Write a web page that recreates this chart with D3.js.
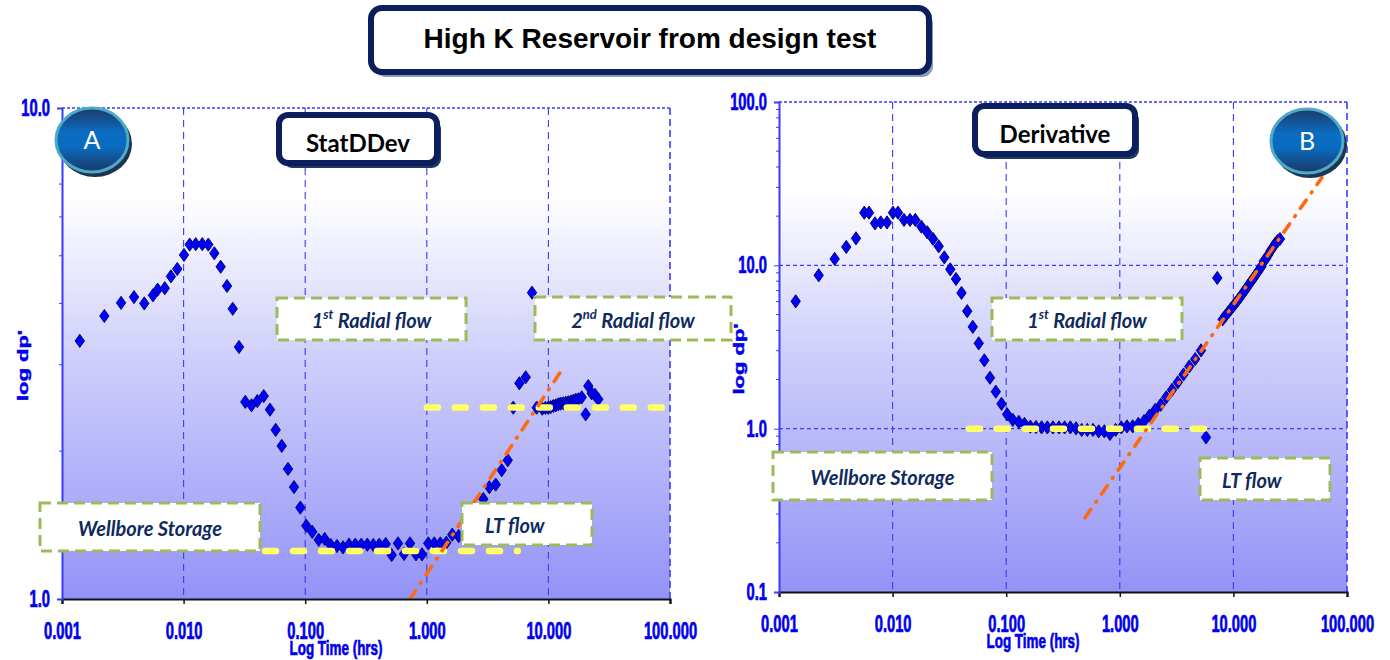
<!DOCTYPE html>
<html>
<head>
<meta charset="utf-8">
<script src="https://cdn.jsdelivr.net/npm/d3@7"></script>
<style>
  body { margin: 0; background: #ffffff; }
  svg { display: block; }
</style>
</head>
<body>
<svg id="chart" width="1390" height="660"></svg>
<script>
// ---------- data ----------
const timeTicks = [0.001, 0.01, 0.1, 1, 10, 100];
const timeTickLabels = ["0.001", "0.010", "0.100", "1.000", "10.000", "100.000"];
const gridTimes = [0.01, 0.1, 1, 10];

// Panel A: StatDDev (time in hrs, dp')
const statTime = [0.0014, 0.00223, 0.00306, 0.00391, 0.00475, 0.0056, 0.00612, 0.0070, 0.00787, 0.00887,
  0.01007, 0.01122, 0.01258, 0.01425, 0.01596, 0.01789, 0.02018, 0.02275, 0.02535, 0.02855,
  0.03216, 0.03614, 0.04037, 0.0456, 0.05133, 0.05718, 0.0641, 0.0722, 0.0809, 0.0912,
  0.1021, 0.1143, 0.1291, 0.1446, 0.162, 0.1826, 0.2046, 0.2291, 0.2582, 0.2892,
  0.3242, 0.3631, 0.4065, 0.4591, 0.5143, 0.5796, 0.6494, 0.7278, 0.8151, 0.9131,
  1.028, 1.152, 1.291, 1.446, 1.62, 1.829, 2.915, 3.266, 3.687, 4.13,
  4.63, 5.14, 5.77, 6.51, 7.33, 8.01, 8.91, 9.45, 9.98, 10.45,
  10.97, 11.5, 12.06, 12.6, 13.26, 13.9, 14.58, 15.3, 16.03, 16.8,
  17.62, 18.79, 20.26, 21.28, 22.7, 24.17, 25.73];
const statDp = [3.355, 3.77, 4.01, 4.12, 4.00, 4.155, 4.265, 4.295, 4.54, 4.70,
  5.02, 5.27, 5.28, 5.28, 5.27, 5.06, 4.75, 4.34, 3.90, 3.26,
  2.52, 2.48, 2.53, 2.59, 2.43, 2.21, 2.05, 1.84, 1.69, 1.535,
  1.41, 1.37, 1.32, 1.325, 1.288, 1.282, 1.274, 1.29, 1.29, 1.29,
  1.29, 1.288, 1.29, 1.294, 1.229, 1.298, 1.235, 1.298, 1.233, 1.233,
  1.298, 1.298, 1.298, 1.302, 1.352, 1.343, 1.598, 1.689, 1.71, 1.83,
  1.917, 2.453, 2.75, 2.829, 4.206, 2.453, 2.441, 2.45, 2.453, 2.46,
  2.472, 2.48, 2.492, 2.50, 2.504, 2.51, 2.516, 2.525, 2.535, 2.545,
  2.551, 2.575, 2.377, 2.715, 2.624, 2.604, 2.551];

// Panel B: Derivative (time in hrs, dp')
const derivTime = [0.001403, 0.002236, 0.00309, 0.00391, 0.00476, 0.00563, 0.0062, 0.0070, 0.00786, 0.00893,
  0.01008, 0.01116, 0.0126, 0.01423, 0.01584, 0.0179, 0.0202, 0.02268, 0.02546, 0.02852,
  0.0322, 0.03614, 0.0404, 0.0454, 0.0508, 0.0573, 0.0642, 0.072, 0.081, 0.0909,
  0.102, 0.1143, 0.1291, 0.1449, 0.163, 0.183, 0.205, 0.23, 0.258, 0.2916,
  0.327, 0.3667, 0.4115, 0.462, 0.5176, 0.5808, 0.652, 0.7306, 0.8197, 0.9196,
  1.031, 1.157, 1.299, 1.455, 1.633, 1.826, 2.049, 2.291, 2.562, 2.881,
  3.24, 3.637, 4.09, 4.61, 5.186, 5.74, 7.21,
  8.05, 8.5, 9.0, 9.5, 10.0, 10.5, 11.0, 11.6, 12.2, 12.8,
  13.4, 14.0, 14.7, 15.4, 16.1, 16.9, 17.7, 18.5, 19.4, 20.3,
  21.3, 22.3, 23.4, 24.5, 25.7];
const derivDp = [6.02, 8.69, 10.95, 12.96, 14.63, 21.0, 21.0, 18.08, 18.3, 18.3,
  21.0, 21.0, 18.97, 18.97, 18.97, 17.26, 15.93, 14.51, 13.07, 11.19,
  9.45, 8.25, 6.78, 5.24, 4.20, 3.33, 2.62, 2.05, 1.685, 1.42,
  1.224, 1.132, 1.10, 1.069, 1.029, 1.024, 1.018, 1.018, 1.018, 1.018,
  1.018, 1.018, 1.004, 0.982, 0.982, 0.982, 0.963, 0.963, 0.928, 0.982,
  1.018, 1.033, 1.033, 1.069, 1.111, 1.201, 1.302, 1.399, 1.554, 1.728,
  1.921, 2.146, 2.403, 2.668, 3.014, 0.8845, 8.37,
  4.67, 4.9, 5.15, 5.4, 5.65, 5.9, 6.15, 6.45, 6.8, 7.1,
  7.45, 7.8, 8.15, 8.55, 8.95, 9.4, 9.85, 10.6, 11.0, 11.6,
  12.3, 12.9, 13.6, 14.1, 14.5];

// Reference lines: flow-regime levels and late-time trend
const statRadial1Time = [0.0467, 5.6];
const statRadial1Dp = [1.252, 1.252];
const statRadial2Time = [1.0, 100];
const statRadial2Dp = [2.455, 2.455];
const statTrendTime = [0.728, 13.2];
const statTrendDp = [1.0, 2.954];
const derivRadialTime = [0.047, 5.62];
const derivRadialDp = [1.0, 1.0];
const derivTrendTime = [0.494, 60];
const derivTrendDp = [0.285, 34.4];

// ---------- styles ----------
const BLUE = "#0000ee";
const SANS = '"Liberation Sans", Arial, sans-serif';
const NOTE_FONT = 'Lato, "Open Sans", sans-serif';
const NAVY_TEXT = "#0f2a5e";
const SQUEEZE = 0.64;   // narrow, tall axis lettering

const svg = d3.select("#chart");
const defs = svg.append("defs");

const bgGrad = defs.append("linearGradient").attr("id", "plotBg")
  .attr("x1", 0).attr("y1", 0).attr("x2", 0).attr("y2", 1);
[[0, "#ffffff"], [0.18, "#ffffff"], [0.5, "#d0d0fb"], [1, "#9393f7"]].forEach(([o, c]) =>
  bgGrad.append("stop").attr("offset", o).attr("stop-color", c));

const badgeGrad = defs.append("linearGradient").attr("id", "badgeFill")
  .attr("x1", 0).attr("y1", 0).attr("x2", 0).attr("y2", 1);
[[0, "#1d3a6a"], [0.38, "#0b6cc0"], [0.6, "#0a6cc0"], [1, "#1c3868"]].forEach(([o, c]) =>
  badgeGrad.append("stop").attr("offset", o).attr("stop-color", c));

const diamond = "M0,-6.6L4.7,0L0,6.6L-4.7,0Z";

function axisLettering(sel, size) {
  sel.attr("fill", BLUE).attr("stroke", BLUE).attr("stroke-width", 0.7)
    .attr("font-family", SANS).attr("font-weight", "bold").attr("font-size", size);
}

function drawPanel(opt) {
  const { x, y, times, values, yTicks, hGrid, flats, trend, titleX, dpLabelX } = opt;
  const g = svg.append("g");
  const [x0, x1] = x.range();
  const [yb, yt] = y.range();

  g.append("rect").attr("x", x0).attr("y", yt).attr("width", x1 - x0).attr("height", yb - yt)
    .attr("fill", "url(#plotBg)");

  // vertical grid
  g.selectAll("line.vg").data(gridTimes).join("line").attr("class", "vg")
    .attr("x1", d => x(d)).attr("x2", d => x(d)).attr("y1", yt).attr("y2", yb)
    .attr("stroke", "#3a3aff").attr("stroke-width", 1.1).attr("stroke-dasharray", "7,5");
  // right border
  g.append("line").attr("x1", x1).attr("x2", x1).attr("y1", yt).attr("y2", yb)
    .attr("stroke", "#3a3aff").attr("stroke-width", 1.6).attr("stroke-dasharray", "7,4");
  // horizontal grid
  g.selectAll("line.hg").data(hGrid).join("line").attr("class", "hg")
    .attr("x1", x0).attr("x2", x1).attr("y1", d => y(d)).attr("y2", d => y(d))
    .attr("stroke", "#3a3aff").attr("stroke-width", 1.2).attr("stroke-dasharray", "4,3");
  // top border
  g.append("line").attr("x1", x0).attr("x2", x1).attr("y1", yt).attr("y2", yt)
    .attr("stroke", "#3a3aff").attr("stroke-width", 1.6).attr("stroke-dasharray", "3,2");

  const clipId = "clip" + Math.round(x0);
  defs.append("clipPath").attr("id", clipId).append("rect")
    .attr("x", x0).attr("y", yt).attr("width", x1 - x0).attr("height", yb - yt);

  // data points
  g.append("g").selectAll("path").data(times.map((t, i) => [t, values[i]])).join("path")
    .attr("d", diamond)
    .attr("transform", d => `translate(${x(d[0])},${y(d[1])})`)
    .attr("fill", "#0000ff").attr("stroke", "#000066").attr("stroke-width", 0.9);

  const line = d3.line().x(d => x(d[0])).y(d => y(d[1]));
  // flow-regime levels
  flats.forEach(f => {
    g.append("path").attr("d", line(f[0].map((t, i) => [t, f[1][i]])))
      .attr("fill", "none").attr("stroke", "#ffff66").attr("stroke-width", 6.5)
      .attr("stroke-linecap", "round").attr("stroke-dasharray", "11,17");
  });
  // late-time trend
  g.append("path").attr("d", line(trend[0].map((t, i) => [t, trend[1][i]])))
    .attr("clip-path", `url(#${clipId})`)
    .attr("fill", "none").attr("stroke", "#ff6a10").attr("stroke-width", 3.6)
    .attr("stroke-linecap", "round").attr("stroke-dasharray", "10,9,1,9");

  // axes
  const xAxis = d3.axisBottom(x).tickValues(timeTicks)
    .tickFormat((d, i) => timeTickLabels[i]).tickSize(5).tickPadding(19);
  const xa = g.append("g").attr("transform", `translate(0,${yb})`).call(xAxis);
  xa.select(".domain").attr("stroke", "#111").attr("stroke-width", 2.2);
  xa.selectAll(".tick line").attr("stroke", "#111").attr("stroke-width", 1.5);
  xa.selectAll("text").call(axisLettering, 23).attr("transform", `scale(${SQUEEZE},1)`);

  const yAxis = d3.axisLeft(y).tickValues(yTicks).tickFormat(d3.format(".1f")).tickSize(5).tickPadding(7);
  const ya = g.append("g").attr("transform", `translate(${x0},0)`).call(yAxis);
  ya.select(".domain").attr("stroke", "#3a3aff").attr("stroke-width", 2);
  ya.selectAll(".tick line").attr("stroke", "#3a3aff");
  ya.selectAll("text").call(axisLettering, 23)
    .attr("x", -12 / SQUEEZE).attr("transform", `scale(${SQUEEZE},1)`);

  // minor ticks on the value axis
  const [ylo, yhi] = y.domain();
  const minors = [];
  for (let dec = ylo; dec < yhi; dec *= 10) for (let k = 2; k <= 9; k++) minors.push(dec * k);
  g.selectAll("line.mt").data(minors).join("line").attr("class", "mt")
    .attr("x1", x0 - 3).attr("x2", x0).attr("y1", d => y(d)).attr("y2", d => y(d))
    .attr("stroke", "#3a3aff").attr("stroke-width", 1);

  // axis titles
  g.append("text").attr("text-anchor", "middle")
    .attr("transform", `translate(${titleX},${yb + 56}) scale(${SQUEEZE},1)`)
    .call(axisLettering, 21).text("Log Time (hrs)");
  g.append("text")
    .attr("transform", `translate(${dpLabelX},${(yt + yb) / 2 + 12}) scale(${SQUEEZE},1) rotate(-90)`)
    .attr("text-anchor", "middle").call(axisLettering, 22).text("log dp'");
  return g;
}

const xA = d3.scaleLog().domain([0.001, 100]).range([62, 670]);
const yA = d3.scaleLog().domain([1, 10]).range([599, 108]);
const xB = d3.scaleLog().domain([0.001, 100]).range([779, 1347]);
const yB = d3.scaleLog().domain([0.1, 100]).range([592, 102]);

drawPanel({ x: xA, y: yA, times: statTime, values: statDp, yTicks: [1, 10], hGrid: [],
  flats: [[statRadial1Time, statRadial1Dp], [statRadial2Time, statRadial2Dp]],
  trend: [statTrendTime, statTrendDp], titleX: 336, dpLabelX: 28 });
drawPanel({ x: xB, y: yB, times: derivTime, values: derivDp, yTicks: [0.1, 1, 10, 100], hGrid: [1, 10],
  flats: [[derivRadialTime, derivRadialDp]],
  trend: [derivTrendTime, derivTrendDp], titleX: 1033, dpLabelX: 744 });

// ---------- annotation boxes ----------
function note(x, y, w, h, main, sup, rest, tx) {
  const g = svg.append("g");
  g.append("rect").attr("x", x).attr("y", y).attr("width", w).attr("height", h)
    .attr("fill", "#ffffff").attr("stroke", "#9bbb59").attr("stroke-width", 3)
    .attr("stroke-dasharray", "11,6");
  const t = g.append("text").attr("x", tx !== undefined ? tx : x + w / 2).attr("y", y + h / 2 + 9)
    .attr("text-anchor", tx !== undefined ? "start" : "middle")
    .attr("fill", NAVY_TEXT).attr("font-family", NOTE_FONT).attr("font-weight", "bold")
    .attr("font-style", "italic").attr("font-size", 20);
  t.append("tspan").text(main);
  if (sup) {
    t.append("tspan").attr("font-size", 13).attr("dy", -9).text(sup);
    t.append("tspan").attr("dy", 9).text(rest);
  }
}
note(277, 298, 189, 42, "1", "st", " Radial flow");
note(535, 297, 196, 43, "2", "nd", " Radial flow");
note(40, 503, 220, 48, "Wellbore Storage");
note(462, 503, 130, 42, "LT flow", null, null, 485);
note(992, 298, 190, 42, "1", "st", " Radial flow");
note(773, 452, 219, 48, "Wellbore Storage");
note(1200, 458, 130, 42, "LT flow", null, null, 1222);

// ---------- title boxes ----------
function labelBox(x, y, w, h, txt, size, shadow, family, rx, base) {
  const g = svg.append("g");
  g.append("rect").attr("x", x + 4).attr("y", y + 5).attr("width", w).attr("height", h).attr("rx", rx)
    .attr("fill", shadow);
  g.append("rect").attr("x", x).attr("y", y).attr("width", w).attr("height", h).attr("rx", rx)
    .attr("fill", "#ffffff").attr("stroke", "#0b1f5e").attr("stroke-width", 6);
  g.append("text").attr("x", x + w / 2).attr("y", base).attr("text-anchor", "middle")
    .attr("font-family", family).attr("font-weight", "bold").attr("font-size", size)
    .attr("fill", "#000").text(txt);
}
labelBox(371, 8, 558, 64, "High K Reservoir from design test", 28, "#8c99b2", SANS, 11, 48);
labelBox(279, 115, 158, 48, "StatDDev", 24, "#22385f", NOTE_FONT, 9, 152);
labelBox(975, 106, 160, 48, "Derivative", 24, "#22385f", NOTE_FONT, 9, 143);

// ---------- badges ----------
function badge(cx, cy, letter) {
  const g = svg.append("g");
  g.append("ellipse").attr("cx", cx + 3).attr("cy", cy + 4).attr("rx", 37).attr("ry", 33).attr("fill", "#1d3553");
  g.append("ellipse").attr("cx", cx).attr("cy", cy).attr("rx", 36).attr("ry", 32)
    .attr("fill", "url(#badgeFill)").attr("stroke", "#4eabc6").attr("stroke-width", 3);
  g.append("text").attr("x", cx).attr("y", cy + 9).attr("text-anchor", "middle")
    .attr("font-family", NOTE_FONT).attr("font-size", 25).attr("fill", "#ffffff").text(letter);
}
badge(92, 140, "A");
badge(1307, 141, "B");
</script>
</body>
</html>
